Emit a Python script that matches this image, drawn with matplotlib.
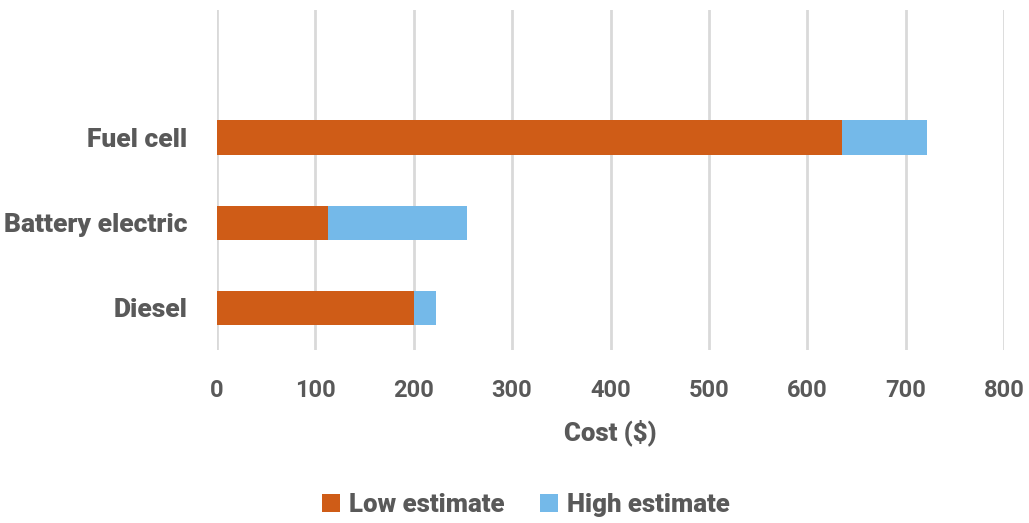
import numpy as np
import matplotlib
matplotlib.use("Agg")
import matplotlib.pyplot as plt

# cost ranges per truck type
categories = ["Diesel", "Battery electric", "Fuel cell"]
low_estimate = [200, 113, 635]
high_estimate = [223, 254, 722]

orange = "#CF5C17"
blue = "#74B9E9"
grey_text = "#595959"

plt.rcParams["font.family"] = ["Roboto", "DejaVu Sans"]

fig = plt.figure(figsize=(10.29, 5.23), dpi=100)
ax = fig.add_axes([217 / 1029, 1 - 350 / 523, (1004 - 217) / 1029, 340 / 523])

y = np.arange(len(categories))
extra = np.array(high_estimate) - np.array(low_estimate)
ax.barh(y, low_estimate, height=0.4, color=orange, label="Low estimate", zorder=3)
ax.barh(y, extra, left=low_estimate, height=0.4, color=blue, label="High estimate", zorder=3)

# one empty slot above fuel cell
ax.set_ylim(-0.5, 3.5)
ax.set_xlim(0, 800)
ax.set_xticks(np.arange(0, 801, 100))
ax.set_yticks(y)
ax.set_yticklabels(categories)

ax.grid(axis="x", color="#D9D9D9", linewidth=2, zorder=0)
for s in ax.spines.values():
    s.set_visible(False)
ax.tick_params(axis="both", length=0, colors=grey_text)
ax.tick_params(axis="x", pad=21)
ax.tick_params(axis="y", pad=21.5)
for lbl in ax.get_yticklabels():
    lbl.set_fontweight("heavy")
    lbl.set_fontsize(19)
    lbl.set_va("center_baseline")
for lbl in ax.get_xticklabels():
    lbl.set_fontweight("bold")
    lbl.set_fontsize(17)

ax.set_xlabel("Cost ($)", color=grey_text, fontsize=18.5, fontweight="heavy", labelpad=12)

leg = fig.legend(loc="center", bbox_to_anchor=(0.511, 1 - 505 / 523), ncol=2, frameon=False,
                 prop={"size": 18.5, "weight": "heavy"}, handlelength=0.7, handleheight=0.7,
                 columnspacing=1.4, handletextpad=0.35)
for t in leg.get_texts():
    t.set_color(grey_text)

fig.savefig("out.png", dpi=100)
